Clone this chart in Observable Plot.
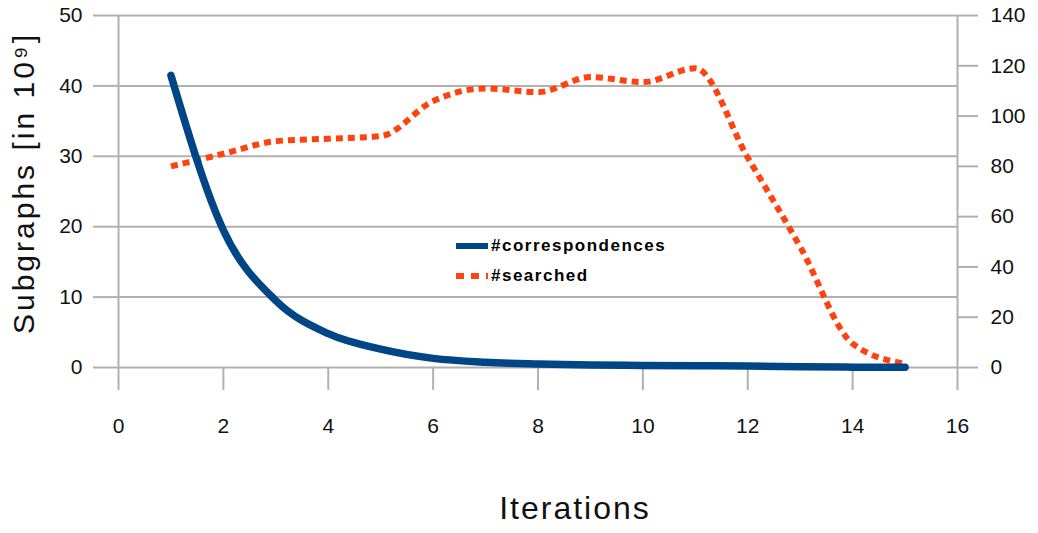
<!DOCTYPE html>
<html>
<head>
<meta charset="utf-8">
<script src="https://cdn.jsdelivr.net/npm/d3@7"></script>
<script src="https://cdn.jsdelivr.net/npm/@observablehq/plot@0.6"></script>
<style>
  html, body { margin: 0; padding: 0; background: #fff; }
  #wrap { position: relative; width: 1038px; height: 533px; font-family: "Liberation Sans", Arial, sans-serif; }
  #legend { position: absolute; left: 456px; top: 231px; font-size: 17px; font-weight: bold; color: #000; line-height: 30px; letter-spacing: 1.5px; }
  .row { display: flex; align-items: center; }
  .sw { width: 32px; height: 6px; margin-right: 3px; }
  #xtitle { position: absolute; left: 0; width: 1150px; top: 490px; text-align: center; font-size: 32px; color: #111; letter-spacing: 2px; }
  #ytitle { position: absolute; left: 24px; top: 183px; transform: translate(-50%, -50%) rotate(-90deg); white-space: nowrap; font-size: 30px; color: #111; letter-spacing: 3px; }
</style>
</head>
<body>
<div id="wrap"></div>
<script>
const iterations = [1, 2, 3, 4, 5, 6, 7, 8, 9, 10, 11, 12, 13, 14, 15];
const correspondences = [41.5, 19.5, 9.5, 4.8, 2.6, 1.3, 0.75, 0.5, 0.35, 0.3, 0.25, 0.2, 0.1, 0.05, 0.02];
const searched = [80, 85, 90, 91, 92, 106, 111, 109.5, 115.5, 113.5, 119, 83.5, 48, 9.5, 1.5];
const xTicks = [0, 2, 4, 6, 8, 10, 12, 14, 16];
const leftTicks = [0, 10, 20, 30, 40, 50];
const rightTicks = [0, 20, 40, 60, 80, 100, 120, 140];
const seriesNames = ["#correspondences", "#searched"];
const colors = ["#004586", "#ff420e"];
const leftMax = 50, rightMax = 140;
const k = leftMax / rightMax;

const blueData = iterations.map((x, i) => ({x, y: correspondences[i]}));
const redData = iterations.map((x, i) => ({x, y: searched[i] * k}));
const grid = "#b0b0b0";
const tickFont = 21;

const chart = Plot.plot({
  width: 1038,
  height: 533,
  marginLeft: 118,
  marginRight: 81,
  marginTop: 15,
  marginBottom: 166,
  style: {fontFamily: "Liberation Sans, Arial, sans-serif", fontSize: tickFont + "px", color: "#111", background: "#fff"},
  x: {domain: [0, 16]},
  y: {domain: [0, leftMax]},
  marks: [
    Plot.ruleY(leftTicks, {stroke: grid, strokeWidth: 2}),
    Plot.ruleX([0, 16], {y1: 0, y2: leftMax, stroke: grid, strokeWidth: 2}),
    Plot.axisY(leftTicks, {anchor: "left", tickSize: 25, tickPadding: 11, stroke: grid, strokeWidth: 2, strokeOpacity: 1, label: null, fill: "#111", fontSize: tickFont}),
    Plot.axisY(rightTicks.map(v => v * k), {anchor: "right", tickSize: 20, tickPadding: 13, stroke: grid, strokeWidth: 2, strokeOpacity: 1, label: null, tickFormat: d => String(Math.round(d / k)), fill: "#111", fontSize: tickFont}),
    Plot.axisX(xTicks, {anchor: "bottom", tickSize: 23, tickPadding: 28, stroke: grid, strokeWidth: 2, strokeOpacity: 1, label: null, fill: "#111", fontSize: tickFont}),
    Plot.line(redData, {x: "x", y: "y", stroke: colors[1], strokeWidth: 6, strokeDasharray: "7,5", strokeLinecap: "butt", curve: "monotone-x"}),
    Plot.line(blueData, {x: "x", y: "y", stroke: colors[0], strokeWidth: 7.5, curve: "monotone-x"})
  ]
});

const wrap = document.getElementById("wrap");
wrap.appendChild(chart);

const legend = document.createElement("div");
legend.id = "legend";
seriesNames.forEach((name, i) => {
  const row = document.createElement("div");
  row.className = "row";
  const sw = document.createElement("div");
  sw.className = "sw";
  sw.style.background = i === 0 ? colors[0] : `repeating-linear-gradient(90deg, ${colors[1]} 0 8px, transparent 8px 15px)`;
  const t = document.createElement("span");
  t.textContent = name;
  row.appendChild(sw);
  row.appendChild(t);
  legend.appendChild(row);
});
wrap.appendChild(legend);

const xt = document.createElement("div");
xt.id = "xtitle";
xt.textContent = "Iterations";
wrap.appendChild(xt);

const yt = document.createElement("div");
yt.id = "ytitle";
yt.textContent = "Subgraphs [in 10⁹]";
wrap.appendChild(yt);
</script>
</body>
</html>
